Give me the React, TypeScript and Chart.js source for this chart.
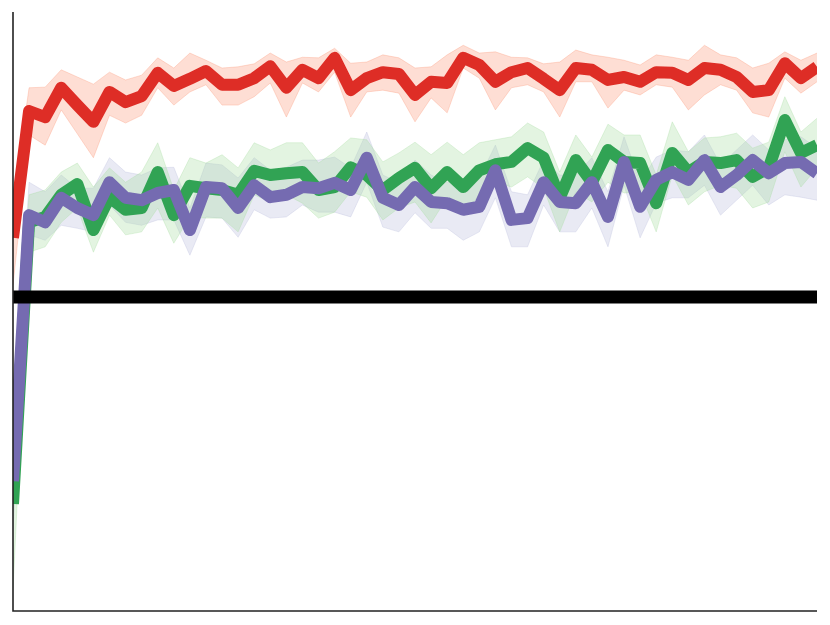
import React, { useEffect, useRef } from "react";
import { Chart, registerables } from "chart.js";

Chart.register(...registerables);

// x positions (training step index)
const steps = Array.from({ length: 51 }, (_, i) => i);

const baselineValue = 52.5;

const red = [62.4,83.6,82.6,87.5,84.6,81.8,86.8,85.1,86.1,90.0,87.8,89.0,90.3,88.0,88.0,89.1,91.1,87.5,90.5,89.1,92.5,87.1,89.1,90.1,89.8,86.3,88.5,88.3,92.5,91.3,88.5,90.1,90.8,89.0,87.1,90.8,90.5,88.8,89.3,88.5,90.1,90.0,88.8,90.8,90.5,89.3,86.8,87.1,91.6,89.1,91.0];
const redUpper = [68.7,87.5,87.6,90.5,89.3,88.1,90.1,88.8,89.6,92.5,90.8,93.3,92.1,90.8,91.0,91.5,93.3,91.8,92.6,92.5,94.1,91.6,91.8,93.0,92.5,90.8,91.0,93.0,94.6,93.3,93.5,92.6,92.5,91.5,91.8,93.8,93.0,92.6,92.1,91.3,93.0,92.6,92.1,94.6,93.0,92.5,90.8,91.6,93.5,92.1,93.3];
const redLower = [54.5,79.6,77.9,83.8,79.8,75.8,82.9,81.6,82.9,87.5,84.6,86.8,88.0,84.6,84.6,86.0,88.3,82.6,88.3,86.8,90.1,82.6,86.8,87.1,86.6,81.8,85.8,83.3,90.8,89.1,83.8,87.5,88.0,86.8,82.6,88.5,88.5,84.1,87.1,86.3,88.0,87.6,83.8,86.3,88.0,87.1,83.3,82.6,89.1,86.6,88.5];

const green = [17.9,65.0,65.9,69.6,71.4,63.7,69.2,67.1,67.4,73.4,66.2,71.1,70.7,70.4,69.6,73.6,72.9,73.2,73.4,70.4,70.9,74.2,72.9,70.4,72.4,74.1,70.7,73.4,70.9,73.7,74.7,75.1,77.4,75.8,69.1,75.4,71.7,77.1,75.1,74.9,68.2,76.6,73.4,75.1,74.9,75.4,72.6,74.1,82.1,76.6,77.9];
const greenUpper = [30.3,69.6,70.4,73.4,74.9,70.9,74.1,71.7,73.4,78.3,70.4,75.8,74.9,76.3,74.1,78.3,77.1,78.3,78.3,74.9,76.8,79.1,78.8,75.1,76.6,78.4,76.3,78.4,76.3,78.3,78.8,79.3,81.6,80.1,73.4,79.6,75.9,81.4,79.6,79.6,72.9,81.8,76.8,79.1,79.3,79.9,77.4,78.4,86.0,80.1,82.4];
const greenLower = [3.5,60.0,60.9,65.0,67.4,60.0,66.2,62.9,63.4,67.4,61.5,65.9,65.7,65.7,63.4,69.6,68.4,69.6,68.2,65.7,66.7,70.1,69.2,65.4,67.4,68.4,64.9,69.1,66.2,69.6,71.7,70.9,72.6,70.7,63.4,70.1,68.4,71.7,69.9,70.1,63.4,72.9,67.9,70.1,71.2,70.7,67.4,68.4,76.8,70.9,74.1];

const purple = [21.7,66.2,65.0,69.1,67.4,66.2,71.7,69.1,68.7,69.9,70.4,63.7,70.9,70.7,67.4,71.2,69.2,69.6,70.9,70.7,71.6,70.4,75.8,69.1,67.9,70.9,68.4,68.2,67.1,67.6,73.7,65.4,65.7,71.7,68.4,68.2,71.7,65.9,75.1,67.6,72.1,73.4,72.1,75.4,70.9,72.9,75.4,73.2,74.9,75.1,73.2];
const purpleUpper = [28.6,71.7,70.1,72.9,70.7,70.7,75.8,73.4,72.9,74.1,74.2,67.4,74.9,74.6,72.4,75.8,73.7,74.2,75.4,75.4,75.9,74.1,80.1,72.9,71.6,75.4,72.9,71.7,71.2,72.4,77.9,70.1,69.6,75.4,72.9,72.9,75.8,70.1,79.3,71.7,75.9,77.1,76.8,79.6,74.6,77.1,79.6,77.1,78.8,79.3,77.4];
const purpleLower = [13.5,62.9,62.0,64.5,64.0,63.4,67.9,65.0,64.5,65.4,65.4,59.5,65.9,65.7,62.5,67.1,65.7,65.9,67.9,66.7,66.7,65.9,71.7,64.2,63.4,66.6,64.0,64.0,62.0,63.4,69.1,60.9,60.9,67.9,63.4,63.4,67.4,60.9,71.2,62.4,68.2,69.1,69.1,71.2,66.2,68.7,71.2,67.9,69.6,69.2,68.7];

const RED = "#de2d26";
const GREEN = "#31a354";
const PURPLE = "#756bb1";
const RED_BAND = "rgba(252,146,114,0.3)";
const GREEN_BAND = "rgba(161,217,155,0.3)";
const PURPLE_BAND = "rgba(188,189,220,0.32)";

const axesPlugin = {
  id: "spines",
  afterDraw(chart: any) {
    const { ctx, chartArea } = chart;
    const { left, right, bottom, top } = chartArea;
    ctx.save();
    ctx.strokeStyle = "#222";
    ctx.lineWidth = 1.6;
    ctx.beginPath();
    ctx.moveTo(left, top - 1);
    ctx.lineTo(left, bottom);
    ctx.lineTo(right, bottom);
    ctx.stroke();
    ctx.restore();
  },
};

export default function App() {
  const ref = useRef<HTMLCanvasElement>(null);

  useEffect(() => {
    if (!ref.current) return;
    const pts = (arr: number[]) => arr.map((v, i) => ({ x: steps[i], y: v }));
    const bandStyle = (c: string) => ({
      borderColor: c,
      backgroundColor: c,
      borderWidth: 1,
      pointRadius: 0,
      tension: 0,
      clip: 0,
      order: 20,
    });
    const lineStyle = (c: string, w: number, order: number) => ({
      borderColor: c,
      backgroundColor: c,
      borderWidth: w,
      pointRadius: 0,
      tension: 0,
      fill: false,
      clip: 0,
      order,
      borderCapStyle: "butt" as const,
      borderJoinStyle: "round" as const,
    });

    const chart = new Chart(ref.current, {
      type: "line",
      data: {
        datasets: [
          { data: pts(redUpper), ...bandStyle(RED_BAND), fill: 1 } as any,
          { data: pts(redLower), ...bandStyle(RED_BAND), fill: false } as any,
          { data: pts(greenUpper), ...bandStyle(GREEN_BAND), fill: 3 } as any,
          { data: pts(greenLower), ...bandStyle(GREEN_BAND), fill: false } as any,
          { data: pts(purpleUpper), ...bandStyle(PURPLE_BAND), fill: 5 } as any,
          { data: pts(purpleLower), ...bandStyle(PURPLE_BAND), fill: false } as any,
          { data: pts(green), ...lineStyle(GREEN, 12, 4) } as any,
          { data: pts(purple), ...lineStyle(PURPLE, 12, 3) } as any,
          { data: pts(red), ...lineStyle(RED, 12, 2) } as any,
          {
            data: [
              { x: steps[0], y: baselineValue },
              { x: steps[steps.length - 1], y: baselineValue },
            ],
            ...lineStyle("#000000", 13, 1),
          } as any,
        ],
      },
      options: {
        responsive: false,
        animation: false,
        devicePixelRatio: 1,
        layout: { padding: { left: 13, right: 13, top: 13, bottom: 14 } },
        scales: {
          x: { type: "linear", min: 0, max: 50, display: false },
          y: { type: "linear", min: 0, max: 100, display: false },
        },
        plugins: {
          legend: { display: false },
          tooltip: { enabled: false },
          filler: { propagate: false },
        },
      },
      plugins: [axesPlugin],
    });
    return () => chart.destroy();
  }, []);

  return (
    <canvas
      ref={ref}
      width={830}
      height={625}
      style={{ position: "absolute", left: 0, top: 0, width: 830, height: 625, background: "#fff" }}
    />
  );
}
